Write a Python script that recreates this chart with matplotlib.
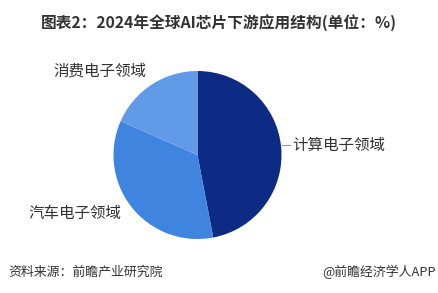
import matplotlib
matplotlib.use("Agg")
import matplotlib.pyplot as plt

plt.rcParams['font.family'] = ['Noto Sans CJK SC', 'DejaVu Sans']

categories = ['计算电子领域', '汽车电子领域', '消费电子领域']
values = [47.0, 34.6, 18.4]
colors = ['#0D2B85', '#3F84DF', '#619BE8']
title = '图表2：2024年全球AI芯片下游应用结构(单位：%)'
source = '资料来源：前瞻产业研究院'
credit = '@前瞻经济学人APP'

W, H = 438, 293
fig = plt.figure(figsize=(W / 100, H / 100), dpi=100)
fig.patch.set_facecolor('white')

cx, cy, r = 197.5, 155, 84
ax = fig.add_axes([(cx - r) / W, (H - cy - r) / H, 2 * r / W, 2 * r / H])
ax.pie(values, colors=colors, startangle=90, counterclock=False,
       radius=1, wedgeprops=dict(linewidth=0))
ax.set_xlim(-1, 1)
ax.set_ylim(-1, 1)
ax.set_aspect('equal')
ax.axis('off')

def fx(x):
    return x / W

def fy(y):
    return 1 - y / H

# labels
fig.text(fx(292), fy(145), categories[0], fontsize=11.2, color='#333333',
         ha='left', va='center')
fig.add_artist(plt.Line2D([fx(282), fx(290)], [fy(145), fy(145)],
                          color='#999999', lw=0.8))
fig.text(fx(28), fy(213), categories[1], fontsize=11.2, color='#333333',
         ha='left', va='center')
fig.text(fx(53), fy(71), categories[2], fontsize=11.2, color='#333333',
         ha='left', va='center')

fig.text(fx(219), fy(23), title, fontsize=11.3, fontweight='bold',
         color='#333333', ha='center', va='center')
fig.text(fx(8), fy(272), source, fontsize=9.3, color='#333333',
         ha='left', va='center')
fig.text(fx(436), fy(272), credit, fontsize=9.3, color='#333333',
         ha='right', va='center')

fig.savefig('out.png', dpi=100)
